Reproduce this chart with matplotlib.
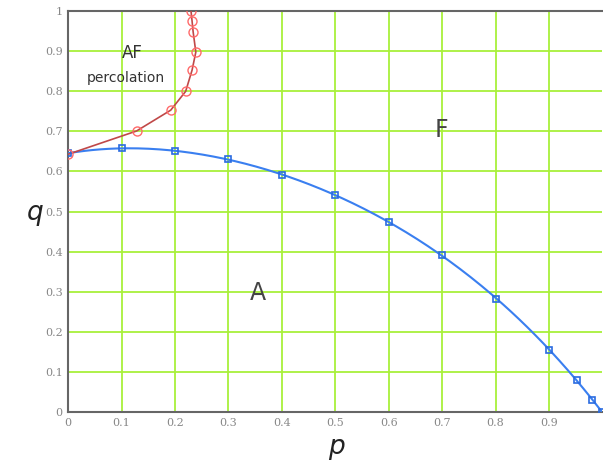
import numpy as np
import matplotlib
matplotlib.use("Agg")
import matplotlib.pyplot as plt

# F / A boundary (squares)
p_fa = [0.0, 0.1, 0.2, 0.3, 0.4, 0.5, 0.6, 0.7, 0.8, 0.9, 0.953, 0.98, 1.0]
q_fa = [0.645, 0.659, 0.651, 0.630, 0.591, 0.541, 0.475, 0.391, 0.283, 0.155, 0.081, 0.029, 0.0]

# AF percolation line (circles)
p_af = [0.0, 0.128, 0.192, 0.22, 0.232, 0.239, 0.234, 0.232, 0.23]
q_af = [0.643, 0.701, 0.753, 0.80, 0.853, 0.898, 0.948, 0.975, 1.0]

xticks = [0, 0.1, 0.2, 0.3, 0.4, 0.5, 0.6, 0.7, 0.8, 0.9]
xlabels = ["0", "0.1", "0.2", "0.3", "0.4", "0.5", "0.6", "0.7", "0.8", "0.9"]
yticks = [0, 0.1, 0.2, 0.3, 0.4, 0.5, 0.6, 0.7, 0.8, 0.9, 1.0]
ylabels = ["0", "0.1", "0.2", "0.3", "0.4", "0.5", "0.6", "0.7", "0.8", "0.9", "1"]

fig = plt.figure(figsize=(6.03, 4.65), dpi=100)
ax = fig.add_axes([0.113, 0.114, 0.886, 0.862])

# smooth fit for the blue boundary
coef = np.polyfit(p_fa, q_fa, 4)
pp = np.linspace(0, 1, 200)
ax.plot(pp, np.polyval(coef, pp), color="#3a7ff0", lw=1.5, zorder=3)
ax.plot(p_fa, q_fa, ls="none", marker="s", ms=5, mfc="none", mec="#2a6be0", mew=1.2, zorder=4)

ax.plot(p_af, q_af, color="#c04848", lw=1.2, zorder=3)
ax.plot(p_af, q_af, ls="none", marker="o", ms=6.5, mfc="none", mec="#ff6a6a", mew=1.0, zorder=4)

ax.set_xlim(0, 1)
ax.set_ylim(0, 1)
ax.set_xticks(xticks)
ax.set_xticklabels(xlabels)
ax.set_yticks(yticks)
ax.set_yticklabels(ylabels)
ax.tick_params(length=0, labelsize=8, labelcolor="#888888", pad=4)
for lab in ax.get_xticklabels() + ax.get_yticklabels():
    lab.set_family("DejaVu Serif")

ax.grid(True, color="#a8f03a", lw=1.3)
ax.set_axisbelow(True)
for side in ["left", "bottom", "top"]:
    ax.spines[side].set_color("#666666")
    ax.spines[side].set_linewidth(1.5)
ax.spines["right"].set_visible(False)

ax.text(0.12, 0.895, "AF", fontsize=12, color="#333333", ha="center", va="center")
ax.text(0.108, 0.833, "percolation", fontsize=10, color="#333333", ha="center", va="center")
ax.text(0.698, 0.703, "F", fontsize=17, color="#444444", ha="center", va="center")
ax.text(0.355, 0.297, "A", fontsize=17, color="#444444", ha="center", va="center")

fig.text(35 / 603, 1 - 213 / 465, "q", fontsize=19, style="italic", color="#222222", ha="center", va="center")
fig.text(336 / 603, 1 - 447 / 465, "p", fontsize=19, style="italic", color="#222222", ha="center", va="center")

fig.savefig("out.png", dpi=100)
